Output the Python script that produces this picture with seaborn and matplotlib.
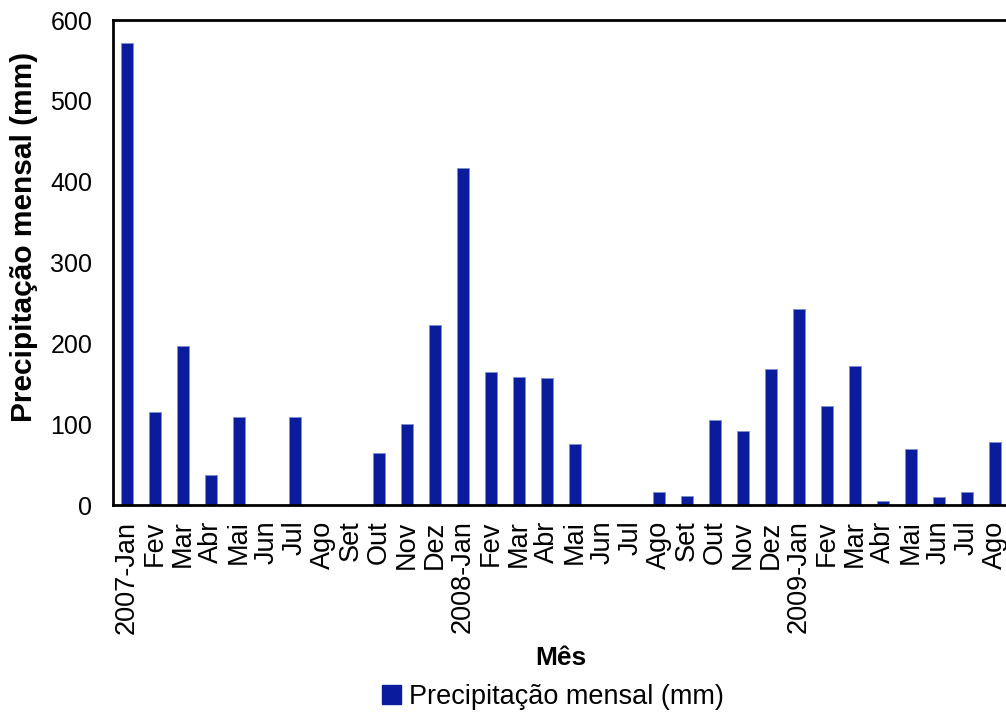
import numpy as np
import pandas as pd
import matplotlib
matplotlib.use("Agg")
import matplotlib.pyplot as plt
import seaborn as sns
from matplotlib.patches import Patch

# Data
month_keys = [f"{y}-{m:02d}" for y in (2007, 2008, 2009) for m in range(1, 13)][:32]
tick_labels = ["2007-Jan", "Fev", "Mar", "Abr", "Mai", "Jun", "Jul", "Ago", "Set", "Out", "Nov", "Dez",
               "2008-Jan", "Fev", "Mar", "Abr", "Mai", "Jun", "Jul", "Ago", "Set", "Out", "Nov", "Dez",
               "2009-Jan", "Fev", "Mar", "Abr", "Mai", "Jun", "Jul", "Ago"]
precip = [571, 115, 197, 37, 109, 0, 109, 0, 0, 65, 100, 223,
          417, 165, 159, 158, 76, 0, 0, 16, 11, 105, 92, 168,
          243, 123, 172, 5, 69, 10, 16, 78]
series_name = "Precipitação mensal (mm)"
x_title = "Mês"
y_ticks = [0, 100, 200, 300, 400, 500, 600]

df = pd.DataFrame({"mes": month_keys, "valor": precip})

sns.set_style("white")
plt.rcParams["font.family"] = ["Liberation Sans", "DejaVu Sans"]
plt.rcParams["text.color"] = "black"
plt.rcParams["xtick.color"] = "black"
plt.rcParams["ytick.color"] = "black"
plt.rcParams["axes.labelcolor"] = "black"

W, H = 1006, 715
fig = plt.figure(figsize=(W / 100, H / 100), dpi=100)
left, right, top, bottom = 113, 1008.7, 20, 505.3
ax = fig.add_axes([left / W, 1 - bottom / H, (right - left) / W, (bottom - top) / H])

bar_color = "#0A1C9C"
sns.barplot(data=df, x="mes", y="valor", ax=ax, color=bar_color, width=0.43,
            edgecolor="#7F8FD0", linewidth=0.6, saturation=1)

ax.set_xlim(-0.5, len(month_keys) - 0.5)
ax.set_ylim(0, 600)
ax.set_yticks(y_ticks)
ax.set_yticklabels([str(v) for v in y_ticks], fontsize=18)

# boundary ticks (major), labels at centres (minor)
ax.set_xticks(np.arange(-0.5, len(month_keys) + 0.5, 1.0))
ax.set_xticklabels([])
ax.set_xticks(np.arange(len(month_keys)), minor=True)
ax.set_xticklabels(tick_labels, minor=True, rotation=90, fontsize=19.5)
ax.tick_params(axis="x", which="major", length=7, width=1, color="#888888", direction="out")
ax.tick_params(axis="x", which="minor", length=0, pad=11)
ax.tick_params(axis="y", length=7, width=1, color="#888888", direction="out", pad=8)

for s in ["left", "bottom", "top", "right"]:
    ax.spines[s].set_color("black")
    ax.spines[s].set_linewidth(2)

ax.set_xlabel("")
ax.set_ylabel("")
fig.text(24 / W, 1 - 237 / H, series_name, rotation=90, fontsize=21.5, fontweight="bold",
         ha="center", va="center")
fig.text(561 / W, 1 - 658 / H, x_title, fontsize=19, fontweight="bold", ha="center", va="center")

handles = [Patch(facecolor=bar_color, edgecolor=bar_color, label=series_name)]
fig.legend(handles=handles, loc="center", bbox_to_anchor=(553 / W, 1 - 697 / H), frameon=False,
           fontsize=19.5, handlelength=0.67, handleheight=0.67, handletextpad=0.3, borderpad=0)

fig.savefig("out.png", dpi=100)
